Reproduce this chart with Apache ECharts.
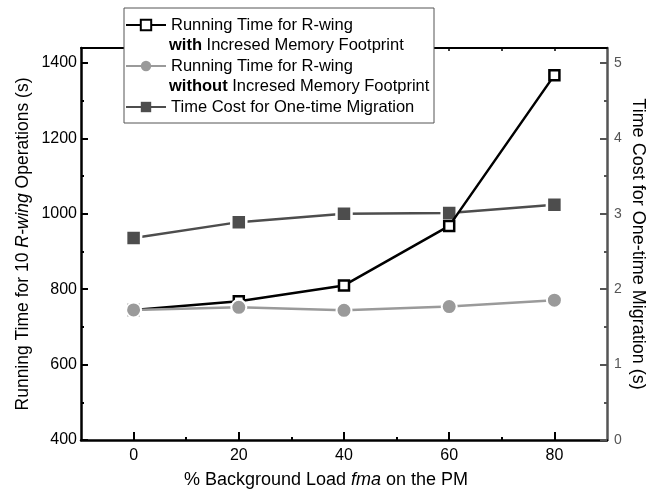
<!DOCTYPE html>
<html>
<head>
<meta charset="utf-8">
<script src="https://cdn.jsdelivr.net/npm/echarts@6/dist/echarts.min.js"></script>
<style>
html,body{margin:0;padding:0;background:#fff;}
#chart{width:657px;height:490px;}
</style>
</head>
<body>
<div id="chart"></div>
<script>
// ---- data ----
const xValues = [0, 20, 40, 60, 80];
const withFootprint = [745, 768, 810, 968, 1368];
const withoutFootprint = [745, 752, 744, 754, 771];
const migrationCost = [2.68, 2.89, 3.00, 3.01, 3.12];

const xTickLabels = [0, 20, 40, 60, 80];
const xMinorTicks = [10, 30, 50, 70];
const xTopTicks = [0, 10, 20, 30, 40, 50, 60, 70, 80];
const leftTickLabels = [400, 600, 800, 1000, 1200, 1400];
const leftMinorTicks = [500, 700, 900, 1100, 1300];
const rightTickLabels = [0, 1, 2, 3, 4, 5];
const rightMinorTicks = [0.5, 1.5, 2.5, 3.5, 4.5];

const seriesNames = [
  'Running Time for R-wing\nwith Incresed Memory Footprint',
  'Running Time for R-wing\nwithout Incresed Memory Footprint',
  'Time Cost for One-time Migration'
];
const secondLines = [
  '{b|with} Incresed Memory Footprint',
  '{b|without} Incresed Memory Footprint'
];

const FONT = '"Liberation Sans", Arial, Helvetica, sans-serif';
const pairs = (ys) => xValues.map((x, i) => [x, ys[i]]);
const plain = (v) => String(v);

const chart = echarts.init(document.getElementById('chart'), null, {renderer: 'canvas'});

const baseX = {
  type: 'value', min: -10, max: 90, gridIndex: 0,
  splitLine: {show: false}
};
const baseLeft = {
  type: 'value', min: 400, max: 1440, position: 'left',
  splitLine: {show: false}
};
const baseRight = {
  type: 'value', min: 0, max: 5.2, position: 'right',
  splitLine: {show: false}
};

const option = {
  animation: false,
  backgroundColor: '#fff',
  grid: {left: 81, right: 50, top: 48, bottom: 50, containLabel: false, outerBoundsMode: 'none'},
  xAxis: [
    Object.assign({}, baseX, {
      position: 'bottom',
      axisLine: {onZero: false, lineStyle: {color: '#000', width: 2.5}},
      axisTick: {inside: true, length: 8, lineStyle: {color: '#000', width: 2}, customValues: xTickLabels},
      axisLabel: {customValues: xTickLabels, formatter: plain, margin: 8, fontSize: 16, color: '#000', fontFamily: FONT},
      name: '% Background Load {i|fma} on the PM',
      nameLocation: 'middle',
      nameGap: 31,
      nameMoveOverlap: false,
      nameTextStyle: {
        fontSize: 18, color: '#000', fontFamily: FONT, padding: [0, 36, 0, 0],
        rich: {i: {fontStyle: 'italic', fontSize: 18, fontFamily: FONT, color: '#000'}}
      }
    }),
    Object.assign({}, baseX, {
      position: 'bottom',
      axisLine: {show: false, onZero: false},
      axisTick: {inside: true, length: 3, lineStyle: {color: '#000', width: 2}, customValues: xMinorTicks},
      axisLabel: {show: false}
    }),
    Object.assign({}, baseX, {
      position: 'top',
      axisLine: {onZero: false, lineStyle: {color: '#000', width: 2}},
      axisTick: {inside: true, length: 3, lineStyle: {color: '#000', width: 1.5}, customValues: xTopTicks},
      axisLabel: {show: false}
    })
  ],
  yAxis: [
    Object.assign({}, baseLeft, {
      axisLine: {onZero: false, lineStyle: {color: '#000', width: 2.5}},
      axisTick: {inside: true, length: 7, lineStyle: {color: '#000', width: 2}, customValues: leftTickLabels},
      axisLabel: {customValues: leftTickLabels, formatter: plain, margin: 4, fontSize: 16, color: '#000', fontFamily: FONT},
      name: 'Running Time for 10 {i|R-wing} Operations (s)',
      nameLocation: 'middle',
      nameRotate: 90,
      nameGap: 49,
      nameMoveOverlap: false,
      nameTextStyle: {
        fontSize: 17.5, color: '#000', fontFamily: FONT,
        rich: {i: {fontStyle: 'italic', fontSize: 17.5, fontFamily: FONT, color: '#000'}}
      }
    }),
    Object.assign({}, baseRight, {
      axisLine: {onZero: false, lineStyle: {color: '#555', width: 2.5}},
      axisTick: {inside: true, length: 7, lineStyle: {color: '#555', width: 2}, customValues: rightTickLabels},
      axisLabel: {customValues: rightTickLabels, formatter: plain, margin: 7, fontSize: 14, color: '#555', fontFamily: FONT},
      name: 'Time Cost for One-time Migration (s)',
      nameLocation: 'middle',
      nameRotate: -90,
      nameGap: 22,
      nameMoveOverlap: false,
      nameTextStyle: {fontSize: 18, color: '#000', fontFamily: FONT}
    }),
    Object.assign({}, baseLeft, {
      axisLine: {show: false, onZero: false},
      axisTick: {inside: true, length: 3, lineStyle: {color: '#000', width: 2}, customValues: leftMinorTicks},
      axisLabel: {show: false}
    }),
    Object.assign({}, baseRight, {
      axisLine: {show: false, onZero: false},
      axisTick: {inside: true, length: 3, lineStyle: {color: '#555', width: 2}, customValues: rightMinorTicks},
      axisLabel: {show: false}
    })
  ],
  legend: {
    orient: 'vertical',
    left: 124,
    top: 8,
    padding: [7, 3, 6, 1],
    itemGap: 21,
    itemWidth: 40,
    itemHeight: 13,
    selectedMode: false,
    backgroundColor: '#fff',
    borderColor: '#555',
    borderWidth: 1,
    formatter: (name) => name.split('\n')[0],
    textStyle: {fontSize: 16.5, color: '#000', fontFamily: FONT, width: 260, lineHeight: 20},
    data: [
      {name: seriesNames[0], itemStyle: {borderWidth: 2}},
      {name: seriesNames[1], itemStyle: {borderWidth: 0}},
      {name: seriesNames[2], itemStyle: {borderWidth: 0}}
    ]
  },
  graphic: secondLines.map((t, i) => ({
    type: 'text',
    x: 169,
    y: i === 0 ? 45 : 86,
    z: 100,
    style: {
      text: t,
      fontSize: 16.5,
      fontFamily: FONT,
      fill: '#000',
      verticalAlign: 'middle',
      rich: {b: {fontWeight: 'bold', fontSize: 16.5, fontFamily: FONT, fill: '#000'}}
    }
  })),
  series: [
    {
      name: seriesNames[0],
      type: 'line',
      xAxisIndex: 0, yAxisIndex: 0,
      z: 3,
      data: pairs(withFootprint),
      symbol: 'rect',
      symbolSize: 10,
      lineStyle: {color: '#000', width: 2.5},
      itemStyle: {color: '#fff', borderColor: '#000', borderWidth: 2.5}
    },
    {
      name: seriesNames[1],
      type: 'line',
      xAxisIndex: 0, yAxisIndex: 0,
      z: 4,
      data: pairs(withoutFootprint),
      symbol: 'circle',
      symbolSize: 15,
      lineStyle: {color: '#9a9a9a', width: 2.5},
      itemStyle: {color: '#9a9a9a', borderColor: '#fff', borderWidth: 2}
    },
    {
      name: seriesNames[2],
      type: 'line',
      xAxisIndex: 0, yAxisIndex: 1,
      z: 2,
      data: pairs(migrationCost),
      symbol: 'rect',
      symbolSize: 15,
      lineStyle: {color: '#4d4d4d', width: 2.5},
      itemStyle: {color: '#4d4d4d', borderColor: '#fff', borderWidth: 2.5}
    }
  ]
};
chart.setOption(option);
</script>
</body>
</html>
